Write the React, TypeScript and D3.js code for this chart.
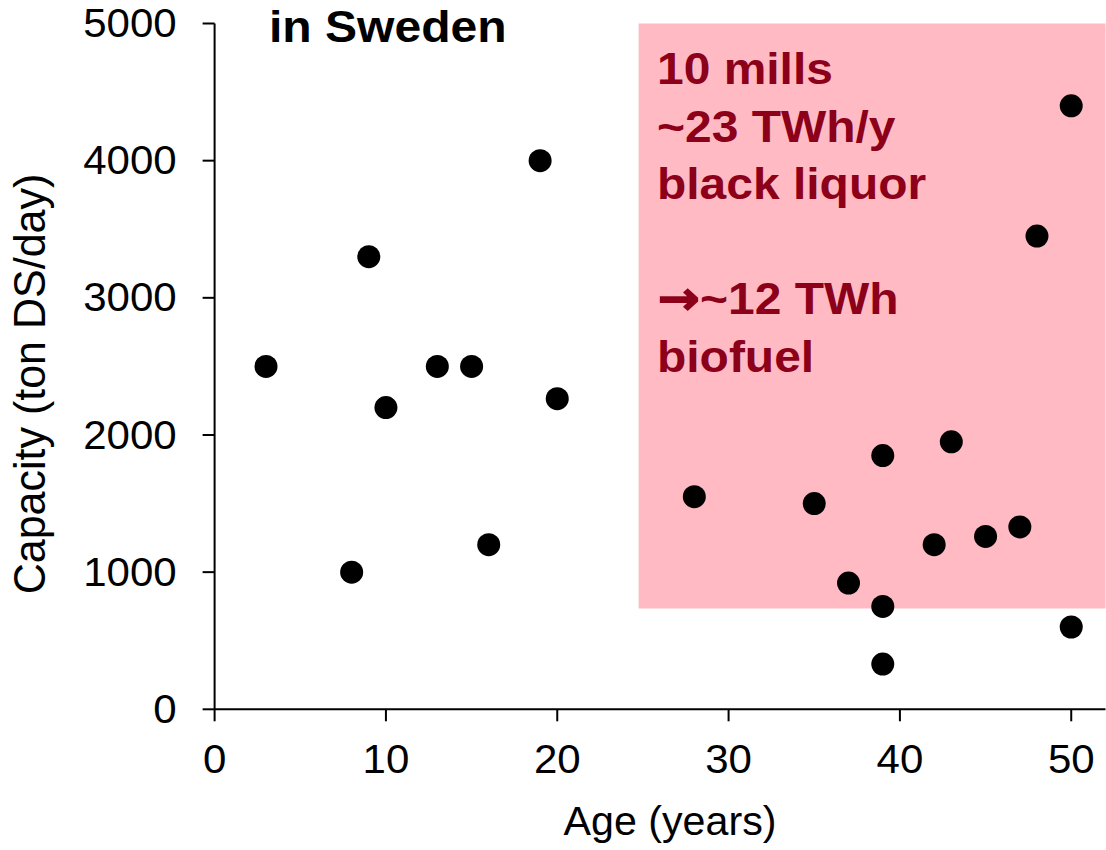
import React from "react";
import * as d3 from "d3";

const ages = [3, 8, 9, 10, 13, 15, 16, 19, 20, 28, 35, 37, 39, 39, 39, 42, 43, 45, 47, 48, 50, 50];
const capacities = [2500, 1000, 3300, 2200, 2500, 2500, 1200, 4000, 2265, 1550, 1500, 920, 1850, 750, 330, 1200, 1950, 1260, 1330, 3450, 4400, 600];
const xTicks = [0, 10, 20, 30, 40, 50];
const yTicks = [0, 1000, 2000, 3000, 4000, 5000];
const highlightAgeStart = 24.75;
const highlightCapacityMin = 735;
const annotationLines = ["10 mills", "~23 TWh/y", "black liquor", "", "~12 TWh", "biofuel"];
const arrowLine = 4;
const titleText = "in Sweden";
const xLabel = "Age (years)";
const yLabel = "Capacity (ton DS/day)";

const W = 1106;
const H = 850;
const FONT = "'Liberation Sans', Arial, Helvetica, sans-serif";
const SX = 1.05;

export default function App() {
  const x = d3.scaleLinear().domain([0, 52]).range([214.6, 1105.5]);
  const y = d3.scaleLinear().domain([0, 5000]).range([709.3, 23.5]);
  const tick = 12;

  const stretched = (tx: number, ty: number, s = SX) => `translate(${tx},${ty}) scale(${s},1)`;

  return (
    <svg
      width={W}
      height={H}
      style={{ position: "absolute", left: 0, top: 0, background: "#fff" }}
      fontFamily={FONT}
    >
      <rect
        x={x(highlightAgeStart)}
        y={y(5000)}
        width={x(52) - x(highlightAgeStart)}
        height={y(highlightCapacityMin) - y(5000)}
        fill="#FFBAC4"
      />
      <line x1={x(0)} x2={x(0)} y1={y(5000)} y2={y(0)} stroke="#000" strokeWidth={2} />
      <line x1={x(0)} x2={x(52)} y1={y(0)} y2={y(0)} stroke="#000" strokeWidth={2} />
      {yTicks.map((t) => (
        <g key={"y" + t}>
          <line x1={x(0) - tick} x2={x(0)} y1={y(t)} y2={y(t)} stroke="#000" strokeWidth={2} />
          <text
            transform={stretched(x(0) - 38, y(t))}
            textAnchor="end"
            dominantBaseline="central"
            fontSize={40}
            fill="#000"
          >
            {t}
          </text>
        </g>
      ))}
      {xTicks.map((t) => (
        <g key={"x" + t}>
          <line x1={x(t)} x2={x(t)} y1={y(0)} y2={y(0) + tick} stroke="#000" strokeWidth={2} />
          <text
            transform={stretched(x(t), y(0) + 64)}
            textAnchor="middle"
            fontSize={40}
            fill="#000"
          >
            {t}
          </text>
        </g>
      ))}
      <text transform={stretched(670, 835, 1.03)} textAnchor="middle" fontSize={40} fill="#000">
        {xLabel}
      </text>
      <text
        transform={`translate(45,384) rotate(-90) scale(1,1.05)`}
        textAnchor="middle"
        fontSize={43}
        fill="#000"
      >
        {yLabel}
      </text>
      <text transform={stretched(269, 42, 1.08)} fontSize={44.5} fontWeight="bold" fill="#000">
        {titleText}
      </text>
      {annotationLines.map((l, i) => (
        <text
          key={"a" + i}
          transform={stretched(657, 84 + i * 57.5, 1.09)}
          fontSize={44}
          fontWeight="bold"
          fill="#8C0019"
        >
          {i === arrowLine ? (
            <tspan
              fontFamily="'DejaVu Sans', sans-serif"
              fontSize={46}
              dx={1}
              stroke="#8C0019"
              strokeWidth={1.5}
            >
              {"\u2192"}
            </tspan>
          ) : null}
          {l}
        </text>
      ))}
      {ages.map((a, i) => (
        <circle key={"p" + i} cx={x(a)} cy={y(capacities[i])} r={11.5} fill="#000" />
      ))}
    </svg>
  );
}
